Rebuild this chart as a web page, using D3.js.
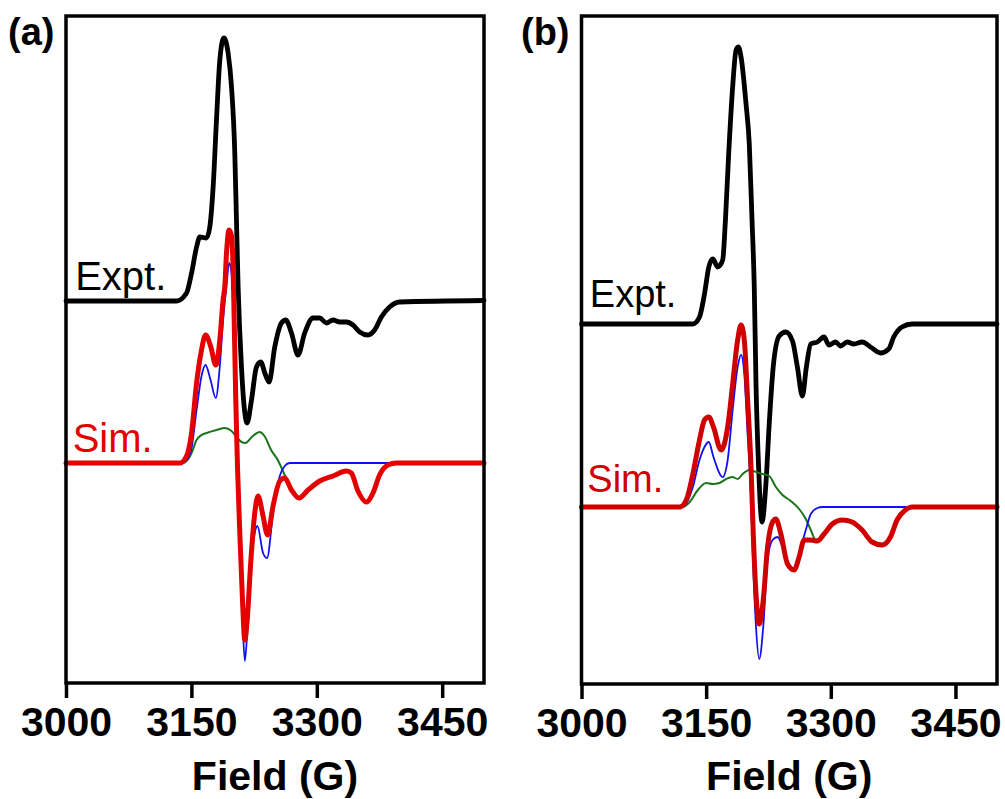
<!DOCTYPE html>
<meta charset='utf-8'>
<style>
body {
    margin: 0;
    background: #fff;
}

.frame {
    fill: none;
    stroke: #000;
    stroke-width: 3.5px;
}

.tick line {
    stroke: #000;
    stroke-width: 3.5px;
}

.tick text {
    font: bold 41px 'Liberation Sans', Arial, sans-serif;
    fill: #000;
}

.trace {
    fill: none;
    stroke-linejoin: round;
    stroke-linecap: round;
}
</style>

<body>
    <div class='chart'></div>
    <script src='https://cdn.jsdelivr.net/npm/d3@7'></script>
    <script>
    // field (G), intensity (a.u., relative to each trace's baseline)
    var exptA = [[3000,0],[3132.3,0],[3144.2,0.8],[3150.2,2.8],[3156.2,5.4],[3160.1,6.4],[3168.1,6.3],[3172.0,7.4],
        [3176.0,11.4],[3180.0,18.1],[3184.0,24.1],[3188.8,26.3],[3193.9,24.8],[3198.0,21.4],[3201.9,14.8],[3203.9,8.1],
        [3205.9,1.4],[3209.9,-6.6],[3213.9,-11.2],[3216.6,-12.2],[3221.9,-9.9],[3227.8,-6.6],[3233.0,-6.1],[3237.8,-7.2],
        [3242.9,-8.1],[3249.7,-4.6],[3257.7,-2.2],[3262.8,-1.9],[3269.7,-3.2],[3277.5,-5.4],[3285.5,-3.2],[3295.5,-1.7],
        [3303.5,-1.7],[3311.5,-2.2],[3319.4,-1.9],[3327.4,-2.1],[3335.4,-2.1],[3343.3,-2.4],[3351.3,-3.1],[3361.2,-3.4],
        [3369.2,-2.9],[3377.2,-1.6],[3387.1,-0.6],[3399.0,-0.1],[3500,0.05]];

    var simA = [[3000,0],[3136.2,0],[3144.2,0.7],[3150.2,3.0],[3156.2,8.0],[3162.1,11.3],[3166.9,12.8],[3172.9,11.7],
        [3179.2,9.8],[3184.0,12.3],[3187.9,16.3],[3190.0,17.7],[3192.0,21.0],[3195.1,23.3],[3198.0,22.7],[3199.9,19.3],
        [3200.7,16.3],[3203.1,6.3],[3205.1,-0.3],[3207.9,-7.0],[3211.1,-13.7],[3213.9,-17.7],[3217.1,-15.3],[3220.7,-10.3],
        [3225.8,-5.0],[3229.7,-3.3],[3235.7,-5.3],[3241.0,-7.2],[3247.7,-4.3],[3255.7,-1.8],[3261.6,-1.5],[3269.7,-2.7],
        [3278.7,-3.5],[3289.5,-2.7],[3303.5,-1.8],[3319.4,-1.3],[3335.4,-0.8],[3341.3,-1.0],[3349.2,-2.8],[3359.3,-3.9],
        [3367.2,-3.0],[3375.1,-1.2],[3385.1,-0.2],[3395.1,0],[3500,0]];

    var blueA = [[3000,0],[3136.2,0],[3144.2,0.3],[3150.2,1.5],[3156.2,5.3],[3162.1,8.7],[3166.9,9.8],[3172.9,8.3],
        [3179.2,6.5],[3184.0,9.7],[3187.9,14.3],[3192.0,17.7],[3195.1,20.0],[3198.0,19.0],[3200.7,14.5],[3203.1,5.5],
        [3205.1,-1.0],[3207.9,-8.0],[3211.1,-15.5],[3213.9,-19.8],[3217.1,-16.5],[3220.7,-11.0],[3225.8,-7.0],[3229.0,-6.3],
        [3235.7,-9.0],[3240.5,-9.5],[3247.7,-5.0],[3255.7,-1.3],[3261.6,-0.3],[3267.6,0],[3500,0]];

    var greenA = [[3000,0],[3140,0],[3144.2,0.2],[3150.2,1.0],[3156.2,2.3],[3162.1,2.8],[3168.1,3.0],[3180.0,3.3],
        [3190.0,3.5],[3198.0,3.2],[3206.0,2.4],[3210.0,2.1],[3214.6,2.0],[3223.4,2.7],[3231.4,3.1],[3237.4,2.7],
        [3245.4,1.3],[3253.3,0.3],[3261.6,-1.2],[3269.7,-2.7],[3278.7,-3.5],[3289.5,-2.7],[3303.5,-1.8],[3319.4,-1.3],
        [3335.4,-0.8],[3341.3,-1.0],[3349.2,-2.8],[3359.3,-3.9],[3367.2,-3.0],[3375.1,-1.2],[3385.1,-0.2],[3395.1,0],[3500,0]];

    var exptB = [[3000,0],[3134.0,0],[3142.0,0.7],[3148.0,3.0],[3153.2,5.7],[3158.0,6.5],[3163.9,5.7],[3169.9,6.4],
        [3173.2,10.4],[3177.1,17.0],[3181.9,23.7],[3186.0,27.4],[3188.8,27.7],[3192.0,26.7],[3198.0,22.0],[3201.9,18.0],
        [3205.2,10.4],[3207.9,3.7],[3210.0,-6.0],[3213.1,-14.3],[3217.2,-19.8],[3221.9,-16.0],[3225.9,-10.0],[3230.7,-4.3],
        [3237.9,-1.2],[3245.9,-0.8],[3253.9,-1.7],[3259.8,-4.3],[3265.8,-7.2],[3270.6,-4.3],[3275.9,-2.0],[3283.8,-1.8],
        [3291.8,-1.3],[3297.8,-2.1],[3305.8,-1.8],[3311.8,-2.2],[3319.7,-1.8],[3327.8,-2.0],[3337.7,-1.8],[3347.8,-2.3],
        [3359.8,-2.9],[3369.7,-2.5],[3375.7,-1.3],[3385.7,-0.3],[3397.7,0],[3500,0]];

    var simB = [[3000,0],[3118.0,0],[3126.1,0.7],[3134.0,3.3],[3142.0,6.7],[3148.0,8.7],[3153.2,9.0],[3158.8,8.0],
        [3168.0,5.7],[3175.9,8.0],[3181.9,12.3],[3187.9,16.7],[3192.0,18.2],[3195.9,16.7],[3199.9,10.7],[3204.0,4.0],
        [3206.7,-2.7],[3210.0,-8.7],[3213.9,-11.7],[3218.7,-9.3],[3223.9,-4.0],[3229.9,-1.5],[3233.9,-1.2],[3239.9,-2.7],
        [3247.9,-5.7],[3255.9,-6.3],[3261.9,-5.0],[3267.9,-3.3],[3275.9,-3.3],[3283.8,-3.4],[3291.8,-2.7],[3301.8,-1.7],
        [3313.8,-1.3],[3325.7,-1.5],[3337.7,-2.3],[3349.7,-3.5],[3361.7,-3.8],[3371.8,-3.0],[3379.7,-1.3],[3389.7,-0.3],
        [3397.7,0],[3500,0]];

    var blueB = [[3000,0],[3122,0],[3134.0,2.0],[3142.0,4.7],[3148.0,6.0],[3153.2,6.5],[3158.8,5.0],[3169.9,3.0],
        [3175.9,4.7],[3181.9,9.7],[3187.9,14.0],[3192.0,15.2],[3195.9,13.3],[3199.9,7.3],[3204.0,0.7],[3206.7,-6.0],
        [3210.0,-12.0],[3213.9,-15.2],[3218.7,-12.0],[3223.9,-5.3],[3229.9,-3.3],[3235.9,-3.0],[3241.9,-4.0],[3249.9,-6.0],
        [3255.9,-6.3],[3261.9,-4.7],[3269.9,-2.3],[3275.9,-0.7],[3283.8,-0.1],[3289.8,0],[3500,0]];

    var greenB = [[3000,0],[3122,0],[3130.3,0.5],[3140.0,1.7],[3150.0,2.4],[3158.0,2.3],[3166.0,2.4],[3174.0,2.8],
        [3181.9,3.0],[3187.9,2.8],[3193.9,3.3],[3201.9,3.7],[3210.0,3.5],[3217.9,3.3],[3225.9,3.1],[3233.9,2.0],
        [3241.9,1.2],[3251.9,0.6],[3261.9,-0.2],[3269.9,-1.2],[3275.9,-2.3],[3281.8,-3.3],[3291.8,-2.7],[3301.8,-1.7],
        [3313.8,-1.3],[3325.7,-1.5],[3337.7,-2.3],[3349.7,-3.5],[3361.7,-3.8],[3371.8,-3.0],[3379.7,-1.3],[3389.7,-0.3],
        [3397.7,0],[3500,0]];

    var fieldTicks = [3000, 3150, 3300, 3450];

    var svg = d3.select('.chart').append('svg')
        .attr('width', 1005)
        .attr('height', 799);

    function drawPanel(p) {
        var x = d3.scaleLinear().domain([3000, 3500]).range([p.left, p.right]);
        var y = d3.scaleLinear().domain(p.yDomain).range([p.bottom, p.top]);
        var g = svg.append('g');

        function line(off) {
            return d3.line()
                .x(function(d) { return x(d[0]); })
                .y(function(d) { return y(d[1] + off); })
                .curve(d3.curveMonotoneX);
        }

        g.append('path').datum(p.expt).attr('class', 'trace')
            .attr('d', line(p.exptOffset)).attr('stroke', '#000').attr('stroke-width', 4.8);
        g.append('path').datum(p.green).attr('class', 'trace')
            .attr('d', line(0)).attr('stroke', '#197319').attr('stroke-width', 2);
        g.append('path').datum(p.blue).attr('class', 'trace')
            .attr('d', line(0)).attr('stroke', '#1010f0').attr('stroke-width', 1.8);
        g.append('path').datum(p.sim).attr('class', 'trace')
            .attr('d', line(0)).attr('stroke', p.red).attr('stroke-width', 5);

        g.append('text')
            .attr('x', x(p.exptLabel[0])).attr('y', y(p.exptLabel[1] + p.exptOffset))
            .style('font', p.labelSize + 'px "Liberation Sans", Arial, sans-serif')
            .text('Expt.');
        g.append('text')
            .attr('x', x(p.simLabel[0])).attr('y', y(p.simLabel[1]))
            .style('font', p.labelSize + 'px "Liberation Sans", Arial, sans-serif')
            .attr('fill', p.red)
            .text('Sim.');

        g.append('rect').attr('class', 'frame')
            .attr('x', p.left).attr('y', p.top)
            .attr('width', p.right - p.left).attr('height', p.bottom - p.top);

        var axis = g.append('g')
            .attr('transform', 'translate(0,' + p.bottom + ')')
            .call(d3.axisBottom(x).tickValues(fieldTicks).tickSize(15).tickPadding(9).tickFormat(d3.format('d')));
        axis.select('.domain').remove();
        axis.selectAll('text').attr('font-family', null).attr('font-size', null);

        g.append('text')
            .attr('x', (p.left + p.right) / 2).attr('y', 790)
            .attr('text-anchor', 'middle')
            .style('font', 'bold 41px "Liberation Sans", Arial, sans-serif')
            .text('Field (G)');

        g.append('text')
            .attr('x', p.tagX).attr('y', 45)
            .style('font', 'bold 38px "Liberation Sans", Arial, sans-serif')
            .text(p.tag);
    }

    drawPanel({
        left: 66, right: 484, top: 16, bottom: 683,
        yDomain: [-22.0, 44.7], exptOffset: 16.2,
        expt: exptA, sim: simA, blue: blueA, green: greenA,
        red: '#e40000', labelSize: 40,
        exptLabel: [3011, 1.1], simLabel: [3008, 1.1],
        tag: '(a)', tagX: 8
    });

    drawPanel({
        left: 581.5, right: 997, top: 16, bottom: 684,
        yDomain: [-17.7, 49.1], exptOffset: 18.3,
        expt: exptB, sim: simB, blue: blueB, green: greenB,
        red: '#d00000', labelSize: 38,
        exptLabel: [3010, 1.7], simLabel: [3007, 1.5],
        tag: '(b)', tagX: 521
    });
    </script>
